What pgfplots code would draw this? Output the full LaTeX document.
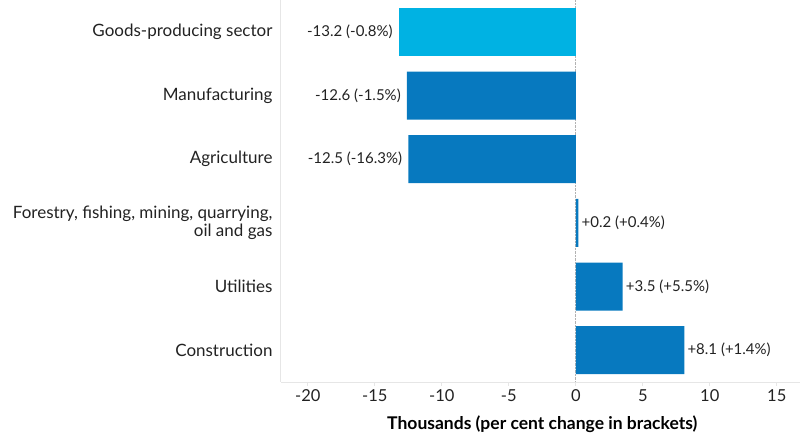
\documentclass[border=0pt]{standalone}
\usepackage{fontspec}
\setmainfont{Lato}
\usepackage{pgfplots}
\pgfplotsset{compat=1.18}
\definecolor{goodscyan}{HTML}{00B2E3}
\definecolor{sectorblue}{HTML}{0779BF}
\definecolor{axisgray}{HTML}{E6E6E6}
\definecolor{textdark}{HTML}{222222}
\begin{document}
\begin{tikzpicture}
\begin{axis}[
	name = main,
	scale only axis,
	width = 522.6pt,
	height = 382pt,
	xbar,
	bar width = 48pt,
	bar shift = 0pt,
	xmin = -22,
	xmax = 17,
	ymin = -0.5,
	ymax = 5.5,
	y dir = reverse,
	ytick = {0,...,5},
	yticklabels = {Goods-producing sector, Manufacturing, Agriculture,
		{Forestry, fishing, mining, quarrying,\\oil and gas}, Utilities, Construction},
	xtick = {-20,-15,...,15},
	/pgf/number format/assume math mode = true,
	axis x line* = bottom,
	axis y line* = left,
	axis line style = {axisgray, line width = 1pt},
	tick align = outside,
	major tick length = 4pt,
	x tick style = {axisgray, line width = 1pt},
	y tick style = {draw = none},
	yticklabel style = {align = right, font = \fontsize{17}{17.5}\selectfont, text = textdark, xshift = -1pt},
	xticklabel style = {font = \fontsize{16.5}{17}\selectfont, text = textdark},
	extra x ticks = {0},
	extra x tick labels = {},
	extra x tick style = {grid = major, major grid style = {densely dotted, gray!60, line width = 0.8pt}, tick style = {draw = none}},
	xlabel = {\bfseries Thousands (per cent change in brackets)},
	xlabel style = {font = \fontsize{17.5}{18}\selectfont, text = black, at = {(axis description cs:0.5,0)}, anchor = center, yshift = -42pt},
	point meta = explicit symbolic,
	nodes near coords,
	nodes near coords style = {font = \fontsize{15}{16}\selectfont, text = textdark, inner sep = 3pt},
]
\addplot[fill = goodscyan, draw = none, every node near coord/.append style = {anchor = east, xshift = -3pt}]
	table[x = val, y = idx, meta = lab] {
val idx lab
-13.2 0 {-13.2 (-0.8\%)}
};
\addplot[fill = sectorblue, draw = none, every node near coord/.append style = {anchor = east, xshift = -3pt}]
	table[x = val, y = idx, meta = lab] {
val idx lab
-12.6 1 {-12.6 (-1.5\%)}
-12.5 2 {-12.5 (-16.3\%)}
};
\addplot[fill = sectorblue, draw = none, every node near coord/.append style = {anchor = west}]
	table[x = val, y = idx, meta = lab] {
val idx lab
0.2 3 {+0.2 (+0.4\%)}
3.5 4 {+3.5 (+5.5\%)}
8.1 5 {+8.1 (+1.4\%)}
};
\end{axis}
\pgfresetboundingbox
\path[use as bounding box] (main.south west) ++(-281pt,-59pt) rectangle ++(800pt,441pt);
\end{tikzpicture}
\end{document}
